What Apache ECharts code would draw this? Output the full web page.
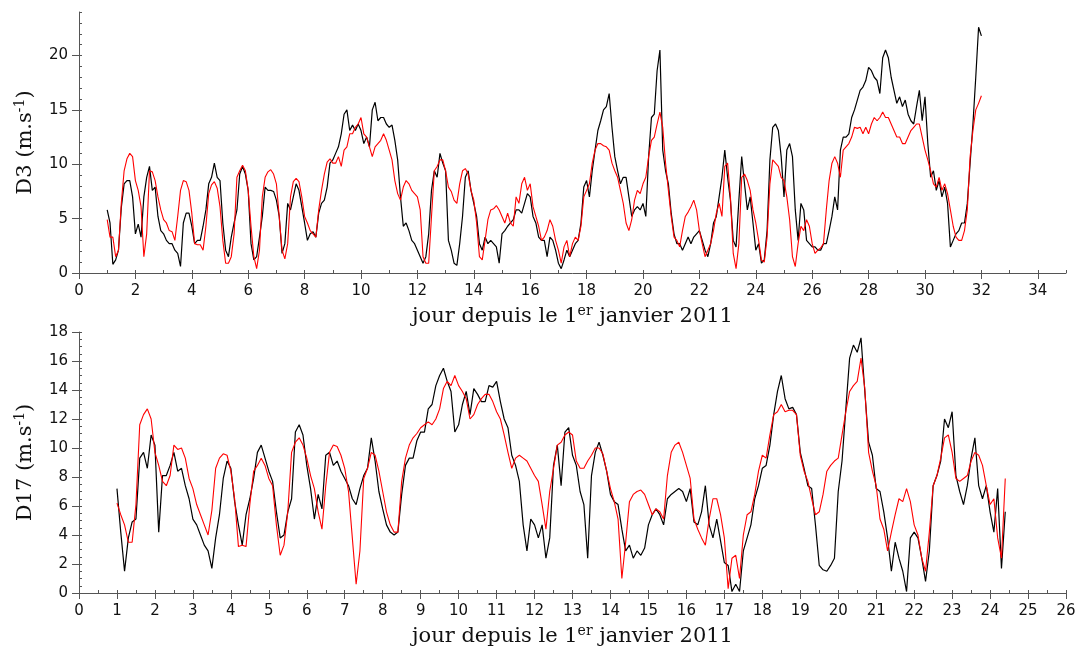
<!DOCTYPE html>
<html>
<head>
<meta charset="utf-8">
<script src="https://cdn.jsdelivr.net/npm/echarts@6/dist/echarts.min.js"></script>
<style>
  html, body { margin: 0; padding: 0; background: #fff; }
  #main { width: 1078px; height: 649px; }
</style>
</head>
<body>
<div id="main"></div>
<script>
// time axis: day since 1 Jan 2011, sampled every 0.1 day from day 1
var dayStart = 1;
var dayStep = 0.1;

// D3 : measured (black) and model (red), day 1.0 -> 32.0
var d3Black = [
  5.8, 4.6, 0.8, 1.2, 2.1, 6.0, 8.2, 8.5, 8.5, 7.0,
  3.6, 4.5, 3.3, 7.0, 8.8, 9.8, 7.6, 7.9, 5.2, 3.9,
  3.6, 3.0, 2.7, 2.7, 2.1, 1.8, 0.6, 4.6, 5.5, 5.5,
  4.3, 2.7, 3.0, 3.0, 4.3, 5.8, 8.2, 8.8, 10.1, 8.8,
  8.5, 4.6, 2.1, 1.5, 3.3, 4.6, 5.8, 9.1, 9.8, 9.1,
  7.6, 2.7, 1.2, 1.5, 3.3, 5.2, 7.9, 7.6, 7.6, 7.5,
  6.7, 5.2, 1.8, 2.7, 6.4, 5.8, 7.0, 8.2, 7.6, 6.1,
  4.6, 3.0, 3.6, 3.8, 3.3, 5.5, 6.4, 6.7, 7.9, 10.1,
  10.4, 11.0, 11.6, 12.8, 14.6, 15.0, 13.1, 13.6, 13.1, 13.7,
  13.1, 11.9, 12.5, 11.6, 15.0, 15.7, 14.0, 14.3, 14.3, 13.7,
  13.4, 13.6, 12.2, 10.4, 7.0, 4.3, 4.6, 3.9, 3.0, 2.7,
  2.1, 1.5, 0.9, 1.5, 3.6, 7.6, 9.4, 8.8, 11.0, 10.1,
  9.4, 3.0, 2.1, 0.9, 0.7, 2.7, 5.2, 8.8, 9.4, 7.6,
  6.4, 5.2, 2.7, 2.1, 3.3, 2.7, 3.0, 2.7, 2.4, 0.9,
  3.6, 3.9, 4.3, 4.6, 4.9, 5.8, 5.8, 5.5, 6.4, 7.3,
  7.0, 5.2, 4.6, 3.3, 3.0, 3.0, 1.5, 3.3, 3.0, 2.1,
  0.9, 0.4, 1.2, 2.1, 1.5, 2.1, 2.7, 3.0, 4.6, 7.9,
  8.5, 7.0, 9.4, 11.3, 13.1, 14.0, 15.0, 15.3, 16.5, 13.4,
  10.7, 9.4, 8.2, 8.8, 8.8, 7.0, 5.2, 5.8, 6.1, 5.8,
  6.4, 5.2, 10.7, 14.3, 14.6, 18.6, 20.5, 11.3, 9.4, 8.2,
  5.5, 3.6, 2.7, 2.7, 2.1, 2.7, 3.3, 2.7, 3.3, 3.6,
  3.9, 3.0, 2.1, 1.5, 2.7, 4.6, 5.2, 7.0, 8.8, 11.3,
  8.8, 6.7, 3.0, 2.4, 6.7, 10.7, 8.2, 5.8, 7.0, 4.6,
  2.1, 2.7, 0.9, 1.2, 3.9, 10.4, 13.4, 13.7, 13.1, 10.7,
  7.0, 11.3, 11.9, 10.7, 5.8, 3.0, 6.4, 5.8, 3.0, 2.7,
  2.4, 2.4, 2.1, 2.1, 2.7, 2.7, 3.9, 5.2, 7.0, 5.8,
  11.3, 12.5, 12.5, 12.8, 14.3, 15.0, 15.9, 16.8, 17.1, 17.7,
  18.9, 18.6, 18.0, 17.7, 16.5, 19.8, 20.5, 19.8, 18.0, 16.8,
  15.6, 16.2, 15.3, 15.9, 14.6, 14.0, 13.7, 15.3, 16.8, 14.0,
  16.2, 11.9, 8.8, 9.4, 7.6, 8.5, 7.0, 7.9, 6.4, 2.4,
  3.0, 3.6, 3.9, 4.6, 4.6, 6.4, 10.1, 13.7, 18.0, 22.6,
  21.8
];
var d3Red = [
  4.9, 3.3, 3.3, 1.5, 2.1, 6.4, 9.4, 10.5, 11.0, 10.7,
  8.5, 7.6, 6.1, 1.5, 3.6, 9.4, 9.3, 8.5, 7.0, 5.8,
  4.9, 4.6, 3.9, 3.8, 3.0, 5.2, 7.6, 8.5, 8.4, 7.6,
  5.5, 2.7, 2.6, 2.6, 2.1, 4.3, 7.3, 8.1, 8.4, 7.8,
  6.1, 3.0, 0.9, 0.9, 1.5, 3.6, 8.8, 9.4, 9.9, 9.4,
  7.6, 4.3, 1.5, 0.4, 2.1, 7.0, 8.8, 9.3, 9.5, 9.1,
  8.2, 5.2, 2.1, 1.3, 2.7, 7.0, 8.4, 8.7, 8.4, 7.0,
  5.2, 4.6, 3.9, 3.6, 3.3, 5.8, 7.6, 9.1, 10.2, 10.5,
  10.1, 10.1, 10.7, 9.8, 11.3, 11.6, 12.8, 12.8, 13.4, 13.7,
  14.3, 12.8, 12.5, 11.6, 10.7, 11.6, 11.9, 12.2, 12.8, 12.2,
  11.3, 10.4, 8.5, 7.3, 6.7, 7.9, 8.5, 8.2, 7.6, 7.3,
  7.0, 5.8, 1.5, 0.9, 0.9, 5.2, 9.4, 9.8, 10.4, 10.4,
  9.4, 7.9, 7.5, 6.7, 6.4, 8.2, 9.4, 9.6, 9.1, 7.6,
  6.7, 4.6, 1.5, 1.2, 3.0, 4.9, 5.8, 5.9, 6.2, 5.8,
  5.2, 4.6, 5.5, 4.6, 4.3, 7.0, 6.4, 8.2, 8.8, 7.6,
  8.2, 6.1, 5.2, 4.3, 3.0, 3.3, 3.9, 4.9, 4.3, 3.0,
  2.1, 0.9, 2.4, 3.0, 1.5, 2.7, 3.3, 3.0, 4.3, 7.0,
  7.6, 8.2, 10.1, 11.3, 11.9, 11.9, 11.7, 11.6, 11.3, 10.1,
  9.4, 8.8, 7.6, 6.4, 4.6, 3.9, 4.9, 6.7, 7.6, 7.3,
  8.2, 8.8, 10.7, 12.2, 12.5, 13.7, 14.8, 13.4, 10.1, 7.6,
  5.2, 3.3, 3.0, 2.4, 3.9, 5.2, 5.6, 6.1, 6.7, 5.8,
  3.9, 2.7, 1.5, 2.1, 2.7, 3.9, 5.5, 6.4, 5.2, 9.8,
  10.1, 7.0, 1.8, 0.4, 2.7, 8.8, 9.1, 8.5, 7.6, 5.8,
  4.6, 3.0, 1.2, 1.0, 3.3, 8.2, 10.4, 10.1, 9.8, 8.8,
  8.5, 7.0, 4.9, 1.5, 0.6, 2.7, 4.3, 3.9, 4.9, 4.3,
  2.7, 1.8, 2.1, 2.3, 2.7, 5.8, 8.5, 10.1, 10.7, 10.1,
  8.8, 11.3, 11.6, 11.9, 12.5, 13.4, 13.3, 13.4, 12.8, 13.4,
  12.8, 13.7, 14.3, 14.0, 14.3, 14.8, 14.3, 14.3, 13.7, 13.1,
  12.5, 12.5, 11.9, 11.9, 12.5, 13.1, 13.4, 13.7, 13.7, 12.5,
  11.3, 10.4, 9.4, 8.2, 7.9, 8.8, 7.6, 8.2, 7.3, 5.8,
  4.3, 3.3, 3.0, 3.0, 3.9, 5.8, 10.7, 13.1, 15.0, 15.6,
  16.3
];

// D17 : measured (black) and model (red), day 1.0 -> 24.4
var d17Black = [
  7.2, 4.2, 1.5, 3.8, 4.9, 5.1, 9.3, 9.7, 8.6, 10.9,
  10.2, 4.2, 8.1, 8.1, 8.8, 9.7, 8.4, 8.6, 7.4, 6.5,
  5.1, 4.7, 4.0, 3.3, 2.9, 1.7, 3.8, 5.4, 7.9, 9.1,
  8.6, 6.3, 4.7, 3.3, 5.4, 6.5, 7.9, 9.7, 10.2, 9.3,
  8.4, 7.7, 5.6, 3.8, 4.0, 5.6, 6.5, 11.1, 11.6, 10.9,
  8.8, 7.2, 5.1, 6.8, 5.8, 9.5, 9.7, 8.8, 9.1, 8.4,
  7.9, 7.4, 6.5, 6.1, 7.2, 8.1, 8.6, 10.7, 9.1, 7.0,
  5.8, 4.7, 4.2, 4.0, 4.2, 6.8, 8.8, 9.3, 9.3, 10.5,
  11.1, 11.1, 12.7, 13.0, 14.3, 15.0, 15.5, 14.6, 13.9, 11.1,
  11.6, 13.0, 13.9, 12.3, 14.1, 13.7, 13.2, 13.2, 14.3, 14.2,
  14.6, 13.2, 12.0, 11.4, 9.5, 8.8, 7.7, 4.7, 2.9, 5.1,
  4.7, 3.8, 4.7, 2.4, 3.8, 8.8, 10.2, 7.4, 11.1, 11.4,
  9.5, 8.8, 7.0, 6.1, 2.4, 8.1, 9.7, 10.4, 9.5, 8.4,
  6.8, 6.3, 6.1, 4.4, 2.9, 3.3, 2.4, 2.9, 2.6, 3.1,
  4.7, 5.4, 5.8, 5.4, 4.7, 6.5, 6.8, 7.0, 7.2, 7.0,
  6.3, 7.2, 4.9, 4.7, 5.6, 7.4, 4.7, 3.8, 5.1, 3.6,
  2.1, 1.9, 0.1, 0.6, 0.1, 2.9, 3.8, 4.7, 6.5, 7.4,
  8.6, 8.8, 10.2, 12.3, 13.9, 15.0, 13.4, 12.7, 12.8, 12.3,
  9.7, 8.6, 7.4, 7.2, 4.7, 1.9, 1.6, 1.5, 1.9, 2.4,
  7.0, 9.1, 12.7, 16.2, 17.1, 16.6, 17.6, 13.9, 10.4, 9.5,
  7.2, 7.0, 5.6, 3.8, 1.5, 3.5, 2.4, 1.5, 0.1, 3.8,
  4.2, 3.8, 2.4, 0.8, 2.9, 7.4, 8.1, 9.1, 12.0, 11.4,
  12.5, 8.1, 7.0, 6.1, 7.4, 9.3, 10.7, 7.4, 6.5, 7.4,
  5.6, 4.2, 7.2, 1.7, 5.6
];
var d17Red = [
  6.2, 5.4, 4.7, 3.5, 3.5, 6.1, 11.6, 12.3, 12.7, 12.0,
  9.7, 8.8, 7.7, 7.4, 8.1, 10.2, 9.9, 10.0, 9.3, 7.9,
  7.2, 6.1, 5.4, 4.7, 4.0, 5.7, 8.6, 9.3, 9.6, 9.5,
  8.4, 6.5, 3.2, 3.3, 3.2, 6.1, 8.4, 8.8, 9.3, 8.8,
  7.9, 7.4, 4.7, 2.6, 3.3, 5.6, 9.7, 10.4, 10.7, 10.2,
  9.3, 8.1, 7.2, 5.6, 4.4, 7.4, 9.7, 10.2, 10.1, 9.5,
  8.6, 7.0, 3.8, 0.6, 2.9, 7.9, 8.6, 9.7, 9.5, 8.4,
  7.0, 5.6, 4.7, 4.2, 4.2, 7.7, 9.3, 10.2, 10.7, 11.0,
  11.4, 11.6, 11.8, 11.6, 12.0, 12.7, 14.1, 14.6, 14.3, 15.0,
  14.3, 13.9, 13.4, 12.0, 12.3, 13.0, 13.4, 13.7, 13.7, 13.2,
  12.5, 12.0, 10.9, 9.7, 8.6, 9.3, 9.5, 9.3, 9.1, 8.6,
  8.1, 7.7, 6.1, 4.4, 7.0, 8.6, 10.2, 10.4, 10.9, 11.1,
  10.9, 9.1, 8.6, 8.6, 9.1, 9.5, 10.0, 10.0, 9.6, 8.4,
  7.2, 6.3, 5.1, 1.0, 3.5, 6.3, 6.8, 7.0, 7.1, 6.8,
  6.1, 5.4, 5.8, 5.6, 5.1, 8.1, 9.7, 10.2, 10.4, 9.7,
  8.8, 7.9, 5.1, 4.4, 3.8, 3.3, 5.1, 6.5, 6.5, 5.4,
  3.8, 0.3, 2.4, 2.6, 1.0, 4.0, 5.4, 5.6, 6.8, 8.4,
  9.5, 9.3, 10.9, 12.3, 12.5, 13.0, 12.5, 12.6, 12.6, 12.3,
  9.5, 8.4, 7.7, 6.5, 5.4, 5.6, 6.8, 8.4, 8.8, 9.1,
  9.3, 10.9, 12.5, 13.9, 14.3, 14.6, 16.2, 14.1, 9.7, 8.4,
  7.4, 5.1, 4.4, 2.9, 4.2, 5.4, 6.5, 6.3, 7.2, 6.3,
  4.7, 4.0, 2.4, 1.5, 4.2, 7.4, 8.1, 9.3, 10.7, 10.9,
  9.7, 7.9, 7.7, 7.9, 8.1, 9.1, 9.7, 9.5, 8.8, 7.4,
  6.1, 6.5, 3.8, 2.4, 7.9
];

// tick labels
var topXLabels = [0, 2, 4, 6, 8, 10, 12, 14, 16, 18, 20, 22, 24, 26, 28, 30, 32, 34];
var topYLabels = [0, 5, 10, 15, 20];
var botXLabels = [0, 1, 2, 3, 4, 5, 6, 7, 8, 9, 10, 11, 12, 13, 14, 15, 16, 17, 18, 19, 20, 21, 22, 23, 24, 25, 26];
var botYLabels = [0, 2, 4, 6, 8, 10, 12, 14, 16, 18];

var xTitle = '{n|jour depuis le 1}{s|er}{n| janvier 2011}';
var topYTitle = '{n|D3 (m.s}{s|-1}{n|)}';
var botYTitle = '{n|D17 (m.s}{s|-1}{n|)}';

function toPairs(vals) {
  return vals.map(function (v, i) {
    return [+(dayStart + i * dayStep).toFixed(2), v];
  });
}

var axisColor = '#555';
var labelFont = { fontFamily: 'DejaVu Sans', fontSize: 15, color: '#111' };
var titleStyle = {
  fontFamily: 'DejaVu Serif',
  color: '#111',
  rich: {
    n: { fontFamily: 'DejaVu Serif', fontSize: 21, lineHeight: 26, color: '#111' },
    s: { fontFamily: 'DejaVu Serif', fontSize: 14, lineHeight: 14, color: '#111', verticalAlign: 'top' }
  }
};

// main axis: line, labels, long ticks; minor axis: short ticks only
function mainX(grid, max, interval, labels) {
  return {
    type: 'value', gridIndex: grid, min: 0, max: max, interval: interval,
    name: xTitle, nameLocation: 'middle', nameGap: 31, nameTextStyle: titleStyle,
    nameMoveOverlap: false,
    axisLine: { show: true, onZero: false, lineStyle: { color: axisColor, width: 1 } },
    axisTick: { show: true, length: 6, customValues: labels, lineStyle: { color: axisColor } },
    axisLabel: Object.assign({ margin: 11, customValues: labels }, labelFont),
    splitLine: { show: false }
  };
}
function minorX(grid, max, interval) {
  return {
    type: 'value', gridIndex: grid, min: 0, max: max, interval: interval,
    axisLine: { show: false },
    axisTick: { show: true, length: 3, lineStyle: { color: axisColor } },
    axisLabel: { show: false },
    splitLine: { show: false }
  };
}
function mainY(grid, max, interval, labels, title) {
  return {
    type: 'value', gridIndex: grid, min: 0, max: max, interval: interval,
    name: title, nameLocation: 'middle', nameGap: 40, nameTextStyle: titleStyle,
    nameMoveOverlap: false,
    axisLine: { show: true, onZero: false, lineStyle: { color: axisColor, width: 1 } },
    axisTick: { show: true, length: 7, customValues: labels, lineStyle: { color: axisColor } },
    axisLabel: Object.assign({ margin: 11, customValues: labels }, labelFont),
    splitLine: { show: false }
  };
}
function minorY(grid, max, interval) {
  return {
    type: 'value', gridIndex: grid, min: 0, max: max, interval: interval,
    axisLine: { show: false },
    axisTick: { show: true, length: 3, lineStyle: { color: axisColor } },
    axisLabel: { show: false },
    splitLine: { show: false }
  };
}

var option = {
  backgroundColor: '#fff',
  animation: false,
  grid: [
    { left: 79, right: 12, top: 12, height: 261, containLabel: false, outerBoundsMode: 'none' },
    { left: 79, right: 12, top: 332, height: 261, containLabel: false, outerBoundsMode: 'none' }
  ],
  xAxis: [
    mainX(0, 35, 1, topXLabels),
    minorX(0, 35, 1),
    mainX(1, 26, 0.5, botXLabels),
    minorX(1, 26, 0.5)
  ],
  yAxis: [
    mainY(0, 24, 1, topYLabels, topYTitle),
    minorY(0, 24, 1),
    mainY(1, 18, 0.5, botYLabels, botYTitle),
    minorY(1, 18, 0.5)
  ],
  series: [
    { type: 'line', xAxisIndex: 0, yAxisIndex: 0, data: toPairs(d3Black), showSymbol: false,
      lineStyle: { color: '#000', width: 1.2 }, z: 2 },
    { type: 'line', xAxisIndex: 0, yAxisIndex: 0, data: toPairs(d3Red), showSymbol: false,
      lineStyle: { color: '#ff0000', width: 1.1 }, z: 3 },
    { type: 'line', xAxisIndex: 2, yAxisIndex: 2, data: toPairs(d17Black), showSymbol: false,
      lineStyle: { color: '#000', width: 1.2 }, z: 2 },
    { type: 'line', xAxisIndex: 2, yAxisIndex: 2, data: toPairs(d17Red), showSymbol: false,
      lineStyle: { color: '#ff0000', width: 1.1 }, z: 3 }
  ]
};

var chart = echarts.init(document.getElementById('main'), null, { renderer: 'canvas' });
chart.setOption(option);
</script>
</body>
</html>
